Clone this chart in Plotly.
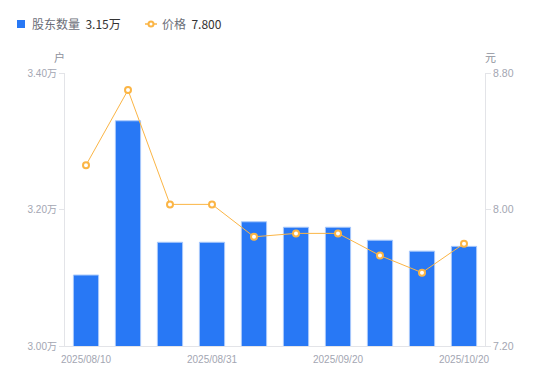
import plotly.graph_objects as go

dates = ["2025/08/10", "2025/08/15", "2025/08/20", "2025/08/31", "2025/09/10",
         "2025/09/15", "2025/09/20", "2025/09/30", "2025/10/10", "2025/10/20"]
holders = [31040, 33300, 31520, 31520, 31820, 31740, 31740, 31550, 31390, 31460]
prices = [8.26, 8.70, 8.03, 8.03, 7.84, 7.86, 7.86, 7.73, 7.63, 7.80]
left_ticks = [30000, 32000, 34000]
left_labels = ["3.00万", "3.20万", "3.40万"]
right_ticks = [7.2, 8.0, 8.8]
right_labels = ["7.20", "8.00", "8.80"]
x_tick_dates = ["2025/08/10", "2025/08/31", "2025/09/20", "2025/10/20"]
legend_holders = "股东数量"
legend_holders_val = "3.15万"
legend_price = "价格"
legend_price_val = "7.800"

FONT = "Noto Sans CJK SC"
TFONT = "Liberation Sans, Noto Sans CJK SC"
TICK = "#a3a6b2"
AXIS = "#e3e4e8"
BLUE = "#2878f5"
ORANGE = "#fbb545"

OFF = 8  # page body offset
W, H = 550, 381
PL, PT, PWID, PHT = 65, 73, 420, 273   # target plot area in screen pixels
L, T = PL - OFF, PT - OFF
R = W - L - PWID
B = H - T - PHT


def px(x):
    return (x - PL) / PWID


def py(y):
    return (PT + PHT - y) / PHT


fig = go.Figure()
fig.add_trace(go.Bar(
    x=dates, y=holders, name=legend_holders,
    marker=dict(color=BLUE, line=dict(color="#a9c9fb", width=1)),
    width=0.6, yaxis="y",
))
fig.add_trace(go.Scatter(
    x=dates, y=prices, name=legend_price,
    mode="lines+markers",
    line=dict(color=ORANGE, width=1),
    marker=dict(symbol="circle", size=6, color="white", line=dict(color=ORANGE, width=2)),
    yaxis="y2",
))

shapes = [
    dict(type="rect", xref="paper", yref="paper", x0=px(17), x1=px(25),
         y0=py(28), y1=py(20), fillcolor=BLUE, line=dict(width=0), layer="above"),
    dict(type="line", xref="paper", yref="paper", x0=px(145), x1=px(157),
         y0=py(24), y1=py(24), line=dict(color=ORANGE, width=1.5)),
    dict(type="circle", xref="paper", yref="paper", x0=px(148.5), x1=px(153.5),
         y0=py(26.5), y1=py(21.5), fillcolor="white", line=dict(color=ORANGE, width=2)),
]

annotations = [
    dict(text=f"{legend_holders}  <span style='color:#333333'>{legend_holders_val}</span>",
         xref="paper", yref="paper", x=px(30), y=py(24), xanchor="left", yanchor="middle",
         showarrow=False, font=dict(size=12, color="#6b6e78")),
    dict(text=f"{legend_price}  <span style='color:#333333'>{legend_price_val}</span>",
         xref="paper", yref="paper", x=px(160), y=py(24), xanchor="left", yanchor="middle",
         showarrow=False, font=dict(size=12, color="#6b6e78")),
    dict(text="户", xref="paper", yref="paper", x=px(59), y=py(57),
         xanchor="center", yanchor="middle",
         showarrow=False, font=dict(size=11, color="#8e919c")),
    dict(text="元", xref="paper", yref="paper", x=px(490), y=py(57),
         xanchor="center", yanchor="middle",
         showarrow=False, font=dict(size=11, color="#8e919c")),
]

fig.update_layout(
    width=W, height=H,
    margin=dict(l=L, r=R, t=T, b=B, autoexpand=False),
    plot_bgcolor="white", paper_bgcolor="white",
    font=dict(family=FONT, size=11, color=TICK),
    showlegend=False,
    bargap=0.4,
    shapes=shapes,
    annotations=annotations,
    xaxis=dict(type="category", tickmode="array", tickvals=x_tick_dates,
               ticktext=x_tick_dates, showgrid=False, showline=True,
               linecolor=AXIS, linewidth=1, ticks="outside", ticklen=4,
               tickcolor="rgba(0,0,0,0)", automargin=False,
               tickfont=dict(size=10, color=TICK, family=TFONT), range=[-0.5, 9.5]),
    yaxis=dict(range=[30000, 34000], tickmode="array", tickvals=left_ticks,
               ticktext=left_labels, showgrid=False, showline=True, automargin=False,
               linecolor=AXIS, linewidth=1, ticks="outside", ticklen=5,
               tickcolor=AXIS, tickfont=dict(size=10, color=TICK, family=TFONT),
               zeroline=False),
    yaxis2=dict(range=[7.2, 8.8], tickmode="array", tickvals=right_ticks,
                ticktext=right_labels, overlaying="y", side="right", automargin=False,
                showgrid=False, showline=True, linecolor=AXIS, linewidth=1,
                ticks="outside", ticklen=5, tickcolor=AXIS,
                tickfont=dict(size=10.5, color=TICK, family=TFONT), zeroline=False),
)

fig.write_html("out.html")
